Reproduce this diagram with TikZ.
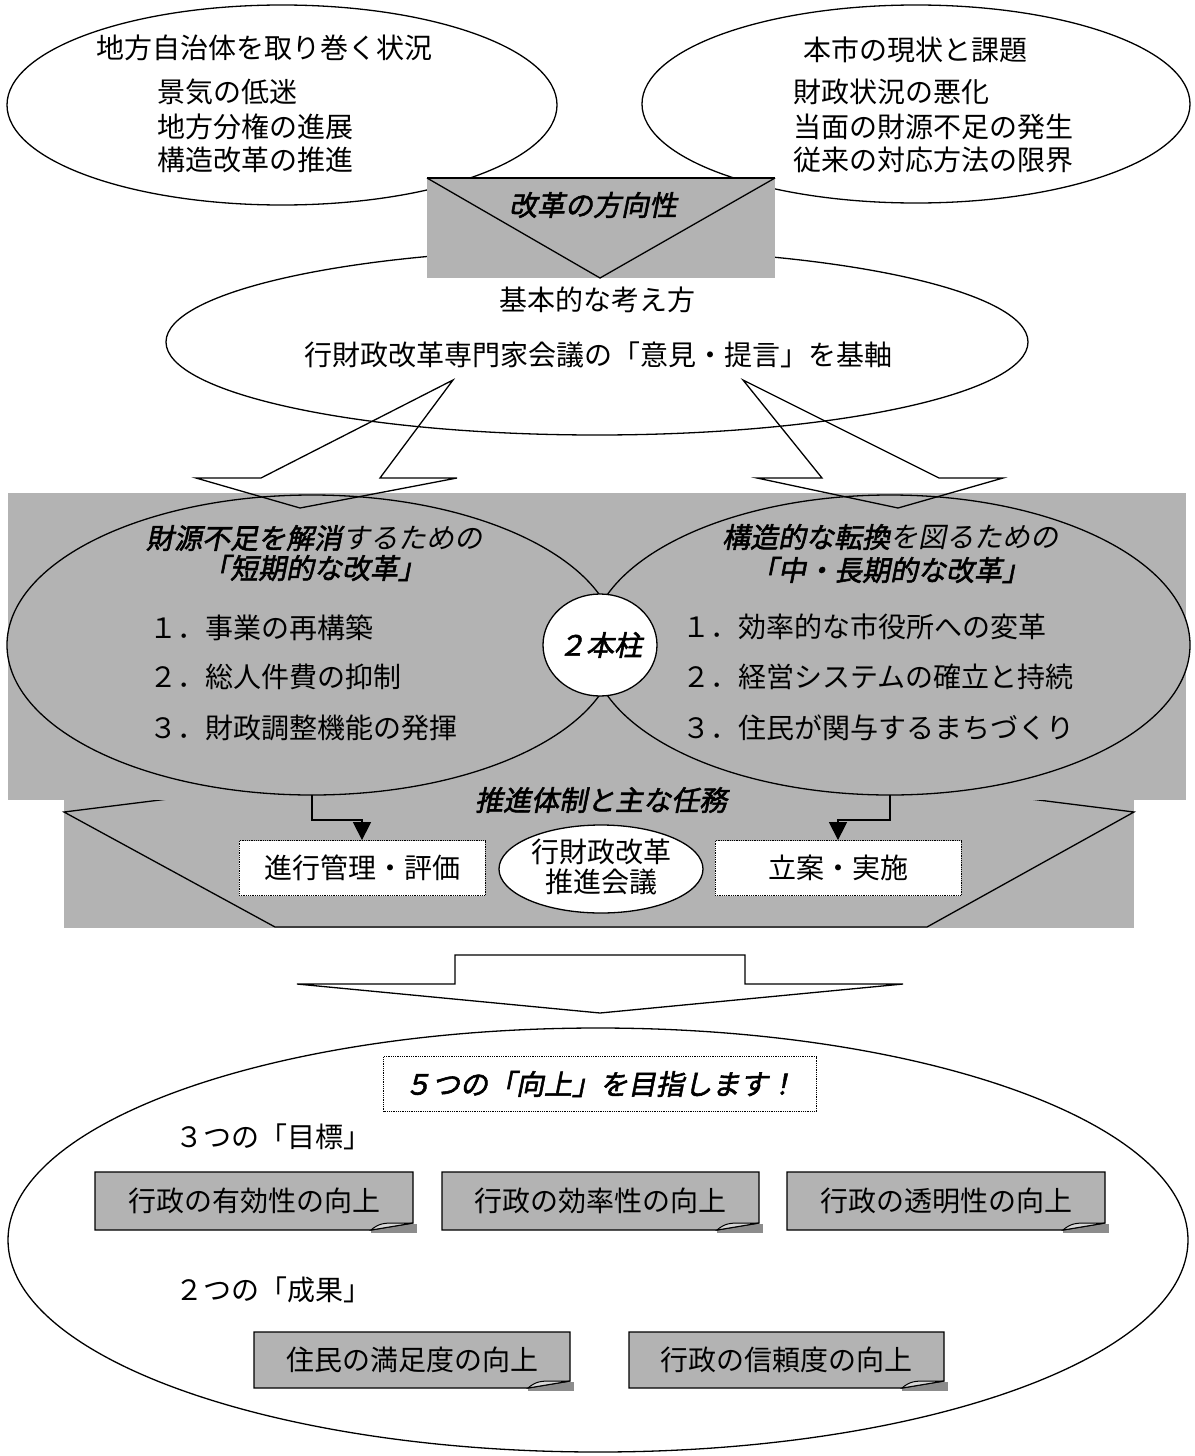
\documentclass[tikz,border=0pt]{standalone}
\usepackage{fontspec}
\setmainfont{Noto Sans CJK JP}
\newfontfamily\jbi[FakeSlant=0.2,FakeBold=2]{Noto Sans CJK JP}
\newfontfamily\ji[FakeSlant=0.2]{Noto Sans CJK JP}
\usetikzlibrary{shapes.geometric,arrows.meta,calc}
\definecolor{bandgray}{RGB}{179,179,179}
\definecolor{shadowgray}{RGB}{140,140,140}
\definecolor{curlgray}{RGB}{215,215,215}
\tikzset{
  ln/.style={line width=1.3pt},
  oval/.style={ellipse, draw, ln, fill=white, inner sep=0pt, outer sep=0pt},
  grayoval/.style={ellipse, draw, ln, fill=bandgray, inner sep=0pt, outer sep=0pt},
  jt/.style={font=\fontsize{28}{34}\selectfont, inner sep=0pt},
  jbt/.style={font=\jbi\fontsize{28}{34}\selectfont, inner sep=0pt},
  dotbox/.style={draw, densely dotted, line width=0.8pt, fill=white, inner sep=0pt, minimum height=55pt},
  conn/.style={ln, -{Triangle[width=18pt,length=18pt]}},
  foldline/.style={line width=1.2pt, fill=bandgray},
}
\newcommand\foldbox[6]{%
  \fill[shadowgray] (#4-42,#5-6) rectangle (#4+4,#5+3);
  \filldraw[foldline] (#2,#3) -- (#4,#3) -- (#4,#5-7) -- (#4-42,#5) -- (#2,#5) -- cycle;
  \filldraw[fill=curlgray, line width=1pt] (#4-42,#5) .. controls (#4-34,#5-7) and (#4-28,#5-7) .. (#4-18,#5-7) -- (#4,#5-7) -- cycle;
  \node[jt] (#1) at ({(#2+#4)/2},{(#3+#5)/2}) {#6};
}
\begin{document}
\begin{tikzpicture}[x=1pt,y=-1pt]
\useasboundingbox (0,0) rectangle (1194,1456);
\fill[white] (0,0) rectangle (1194,1456);

% top ellipses
\node[oval, minimum width=550pt, minimum height=200pt] (tl) at (282,105) {};
\node[oval, minimum width=548pt, minimum height=198pt] (tr) at (916,104) {};
% middle ellipse
\node[oval, minimum width=862pt, minimum height=186pt] (mid) at (597,342) {};

% envelope
\fill[bandgray] (427,178) rectangle (775,278);
\draw[ln] (427,178) -- (775,178);
\draw[ln] (427,178) -- (600,278) -- (775,178);
\node[jbt] (dir) at (593,205) {改革の方向性};

% lower band
\fill[bandgray] (64,790) rectangle (1134,928);
\draw[ln] (600,745) -- (64,812) -- (275,927) -- (927,927) -- (1134,812) -- cycle;
% upper band
\fill[bandgray] (8,493) rectangle (1186,800);

% band ellipses
\node[grayoval, minimum width=610pt, minimum height=300pt] (lell) at (312,645) {};
\node[grayoval, minimum width=600pt, minimum height=300pt] (rell) at (890,645) {};
\node[oval, minimum width=114pt, minimum height=102pt] (pillar) at (600,645) {};
\node[jbt] at (pillar) {２本柱};

% block arrows from middle ellipse
\draw[ln] (453,380) -- (261,478) -- (196,478) -- (300,508) -- (457,478) -- (380,478) -- cycle;
\draw[ln] (743,380) -- (822,478) -- (757,478) -- (898,508) -- (1003,478) -- (939,478) -- cycle;

% texts top
\node[jt, anchor=west] (tlh) at (96,48) {地方自治体を取り巻く状況};
\node[jt, anchor=west] (tl1) at (157,92) {景気の低迷};
\node[jt, anchor=west] (tl2) at (157,127) {地方分権の進展};
\node[jt, anchor=west] (tl3) at (157,160) {構造改革の推進};
\node[jt, anchor=west] (trh) at (803,50) {本市の現状と課題};
\node[jt, anchor=west] (tr1) at (793,92) {財政状況の悪化};
\node[jt, anchor=west] (tr2) at (793,127) {当面の財源不足の発生};
\node[jt, anchor=west] (tr3) at (793,160) {従来の対応方法の限界};
\node[jt] (m1) at (597,300) {基本的な考え方};
\node[jt] (m2) at (598,355) {行財政改革専門家会議の「意見・提言」を基軸};

% band texts
\node[jt] (lh1) at (314,538) {{\jbi 財源不足を解消}{\ji するための}};
\node[jbt] (lh2) at (314,568) {「短期的な改革」};
\node[jt, anchor=west] (l1) at (149,628) {１．事業の再構築};
\node[jt, anchor=west] (l2) at (149,677) {２．総人件費の抑制};
\node[jt, anchor=west] (l3) at (149,728) {３．財政調整機能の発揮};
\node[jt] (rh1) at (890,537) {{\jbi 構造的な転換}{\ji を図るための}};
\node[jbt] (rh2) at (890,570) {「中・長期的な改革」};
\node[jt, anchor=west] (r1) at (682,627) {１．効率的な市役所への変革};
\node[jt, anchor=west] (r2) at (682,677) {２．経営システムの確立と持続};
\node[jt, anchor=west] (r3) at (682,728) {３．住民が関与するまちづくり};

% lower band contents
\node[jbt] (sys) at (601,800) {推進体制と主な任務};
\node[dotbox, minimum width=246pt] (pm) at (362,868) {};
\node[jt] at (pm) {進行管理・評価};
\node[dotbox, minimum width=246pt] (pi) at (838,868) {};
\node[jt] at (pi) {立案・実施};
\node[oval, minimum width=204pt, minimum height=88pt] (conf) at (601,869) {};
\node[jt, font=\fontsize{28}{30}\selectfont, align=center] at (601,867) {行財政改革\\推進会議};
\draw[conn] (lell.south) -- ++(0,25) -| (pm.north);
\draw[conn] (rell.south) -- ++(0,25) -| (pi.north);

% big down arrow
\draw[ln] (455,955) -- (745,955) -- (745,984) -- (903,984) -- (600,1013) -- (297,984) -- (455,984) -- cycle;

% bottom ellipse
\node[oval, minimum width=1180pt, minimum height=424pt] (bot) at (598,1240) {};
\node[dotbox, minimum width=433pt] (five) at (600,1084) {};
\node[jbt] at (five) {５つの「向上」を目指します！};
\node[jt, anchor=west] (goals) at (175,1137) {３つの「目標」};
\node[jt, anchor=west] (res) at (175,1290) {２つの「成果」};
\foldbox{g1}{95}{1172}{413}{1230}{行政の有効性の向上}
\foldbox{g2}{442}{1172}{759}{1230}{行政の効率性の向上}
\foldbox{g3}{787}{1172}{1105}{1230}{行政の透明性の向上}
\foldbox{o1}{254}{1332}{570}{1388}{住民の満足度の向上}
\foldbox{o2}{629}{1332}{944}{1388}{行政の信頼度の向上}
\end{tikzpicture}
\end{document}
